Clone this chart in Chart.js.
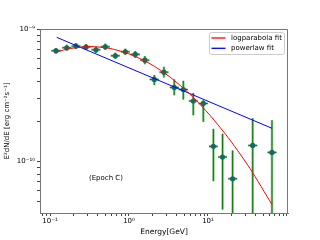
<!DOCTYPE html>
<html>
<head>
<meta charset="utf-8">
<script src="https://cdn.jsdelivr.net/npm/chart.js@4"></script>
<style>
    html, body { margin: 0; padding: 0; background: #fff; }
    #wrap { width: 320px; height: 240px; }
</style>
</head>
<body>
<div id="wrap"><canvas id="sedChart" width="320" height="240"></canvas></div>
<script>
// flux points, E in GeV, E^2 dN/dE in erg cm^-2 s^-1
let energy     = [0.119, 0.163, 0.213, 0.286, 0.382, 0.501, 0.671, 0.898, 1.20, 1.59, 2.09, 2.77, 3.74, 4.87, 6.51, 8.72, 11.7, 15.3, 20.5, 36.8, 64.6];
let energyLow  = [0.104, 0.143, 0.187, 0.251, 0.335, 0.439, 0.589, 0.788, 1.05, 1.39, 1.83, 2.43, 3.28, 4.27, 5.71, 7.65, 10.3, 13.4, 18.0, 32.3, 56.7];
let energyHigh = [0.136, 0.186, 0.243, 0.326, 0.435, 0.571, 0.765, 1.02, 1.37, 1.81, 2.38, 3.16, 4.26, 5.55, 7.42, 9.94, 13.3, 17.4, 23.4, 42.0, 73.6];
let flux       = [6.85e-10, 7.22e-10, 7.43e-10, 7.31e-10, 6.97e-10, 7.34e-10, 6.28e-10, 6.73e-10, 6.43e-10, 5.82e-10, 4.16e-10, 4.72e-10, 3.62e-10, 3.49e-10, 2.86e-10, 2.74e-10, 1.30e-10, 1.08e-10, 7.40e-11, 1.32e-10, 1.17e-10];
let fluxLow    = [6.50e-10, 6.85e-10, 7.05e-10, 6.93e-10, 6.60e-10, 6.95e-10, 5.95e-10, 6.38e-10, 6.05e-10, 5.42e-10, 3.77e-10, 4.31e-10, 3.16e-10, 2.93e-10, 2.23e-10, 1.99e-10, 7.10e-11, 4.33e-11, 1e-11, 1e-12, 1e-12];
let fluxHigh   = [7.20e-10, 7.60e-10, 7.83e-10, 7.70e-10, 7.35e-10, 7.75e-10, 6.62e-10, 7.10e-10, 6.83e-10, 6.25e-10, 4.49e-10, 5.18e-10, 4.16e-10, 4.06e-10, 3.29e-10, 2.90e-10, 1.76e-10, 1.62e-10, 1.21e-10, 2.12e-10, 2.05e-10];

// fitted models
let logparEnergy = [0.1216, 0.1815, 0.321, 0.575, 1.03, 1.845, 3.30, 5.92, 10.6, 19.0, 34.0, 64.6];
let logparFlux   = [6.72e-10, 7.13e-10, 7.37e-10, 7.13e-10, 6.45e-10, 5.47e-10, 4.34e-10, 3.22e-10, 2.23e-10, 1.45e-10, 8.85e-11, 4.72e-11];
let powerlawEnergy = [0.1216, 64.6];
let powerlawFlux   = [8.65e-10, 1.78e-10];

let xTickValues = [0.1, 1, 10];
let xTickLabels = ['10⁻¹', '10⁰', '10¹'];
let yTickValues = [1e-10, 1e-9];
let yTickLabels = ['10⁻¹⁰', '10⁻⁹'];

Chart.defaults.font.family = "'DejaVu Sans', sans-serif";
Chart.defaults.font.size = 7;
Chart.defaults.color = '#000';

function decadeTicks(min, max) {
    let out = [];
    for (let n = -12; n <= 3; n++) {
        for (let m = 1; m <= 9; m++) {
            let v = m * Math.pow(10, n);
            if (v >= min && v <= max) out.push(v);
        }
    }
    return out;
}

function labelFor(values, labels) {
    return function (value) {
        let i = values.findIndex(v => Math.abs(v - value) / v < 1e-6);
        return i >= 0 ? labels[i] : '';
    };
}

let errorBars = {
    id: 'errorBars',
    beforeDatasetsDraw(chart) {
        let ctx = chart.ctx, xs = chart.scales.x, ys = chart.scales.y, a = chart.chartArea;
        ctx.save();
        ctx.beginPath();
        ctx.rect(a.left, a.top, a.right - a.left, a.bottom - a.top);
        ctx.clip();
        for (let pass = 0; pass < 2; pass++) {
            ctx.strokeStyle = pass ? '#0b730b' : 'rgba(60,165,60,0.55)';
            ctx.lineWidth = pass ? 1 : 2.6;
            energy.forEach((e, i) => {
                let px = xs.getPixelForValue(e);
                let py = ys.getPixelForValue(flux[i]);
                ctx.beginPath();
                ctx.moveTo(xs.getPixelForValue(energyLow[i]), py);
                ctx.lineTo(xs.getPixelForValue(energyHigh[i]), py);
                ctx.moveTo(px, ys.getPixelForValue(fluxLow[i]));
                ctx.lineTo(px, ys.getPixelForValue(fluxHigh[i]));
                ctx.stroke();
            });
        }
        ctx.restore();
    }
};

let frameAndLegend = {
    id: 'frameAndLegend',
    afterDraw(chart) {
        let ctx = chart.ctx, a = chart.chartArea;
        ctx.save();
        // top and right spines
        ctx.strokeStyle = '#777';
        ctx.lineWidth = 1;
        ctx.beginPath();
        ctx.moveTo(a.left, a.top + 0.5);
        ctx.lineTo(a.right - 0.5, a.top + 0.5);
        ctx.lineTo(a.right - 0.5, a.bottom);
        ctx.stroke();

        // epoch label
        ctx.fillStyle = '#000';
        ctx.font = "7px 'DejaVu Sans'";
        ctx.textAlign = 'center';
        ctx.textBaseline = 'middle';
        ctx.fillText('(Epoch C)', chart.scales.x.getPixelForValue(0.511), chart.scales.y.getPixelForValue(7.43e-11));

        // legend box
        let bx = 209.5, by = 32.5, bw = 75, bh = 22;
        ctx.fillStyle = 'rgba(255,255,255,0.8)';
        ctx.strokeStyle = '#ccc';
        ctx.beginPath();
        ctx.roundRect(bx, by, bw, bh, 2);
        ctx.fill();
        ctx.stroke();
        let entries = [['logparabola fit', 'red'], ['powerlaw fit', 'blue']];
        entries.forEach((en, i) => {
            let y = by + 5.5 + i * 10.3;
            ctx.strokeStyle = en[1];
            ctx.lineWidth = 1.3;
            ctx.beginPath();
            ctx.moveTo(bx + 2, y);
            ctx.lineTo(bx + 16, y);
            ctx.stroke();
            ctx.fillStyle = '#000';
            ctx.textAlign = 'left';
            ctx.fillText(en[0], bx + 21.5, y);
        });
        ctx.restore();
    }
};

let sedCanvas = document.getElementById('sedChart').getContext('2d');

new Chart(sedCanvas, {
    type: 'scatter',
    data: {
        datasets: [
            {
                label: 'logparabola fit',
                type: 'line',
                data: logparEnergy.map((e, i) => ({x: e, y: logparFlux[i]})),
                borderColor: 'red',
                borderWidth: 1,
                pointRadius: 0,
                tension: 0.25,
                fill: false
            },
            {
                label: 'powerlaw fit',
                type: 'line',
                data: powerlawEnergy.map((e, i) => ({x: e, y: powerlawFlux[i]})),
                borderColor: 'blue',
                borderWidth: 1,
                pointRadius: 0,
                fill: false
            },
            {
                label: 'data',
                data: energy.map((e, i) => ({x: e, y: flux[i]})),
                pointRadius: 2.6,
                pointBackgroundColor: '#156a66',
                pointBorderColor: '#156a66',
                pointBorderWidth: 0
            }
        ]
    },
    options: {
        responsive: false,
        animation: false,
        layout: { padding: { top: 29, right: 32, left: 0, bottom: 0 } },
        plugins: { legend: { display: false }, tooltip: { enabled: false } },
        scales: {
            x: {
                type: 'logarithmic',
                min: 0.0747,
                max: 103,
                afterBuildTicks: s => { s.ticks = decadeTicks(0.0747, 103).map(v => ({value: v})); },
                afterFit: s => { s.height = 27; },
                ticks: { autoSkip: false, maxRotation: 0, padding: 1, callback: labelFor(xTickValues, xTickLabels) },
                grid: { display: true, drawOnChartArea: false, drawTicks: true, tickLength: 3, tickColor: '#444' },
                border: { display: true, color: '#777', width: 1 },
                title: { display: true, text: 'Energy[GeV]', font: { size: 7.5 }, padding: { top: 0, bottom: 3 } }
            },
            y: {
                type: 'logarithmic',
                min: 4.08e-11,
                max: 1.0e-9,
                afterBuildTicks: s => { s.ticks = decadeTicks(4.08e-11, 1.0e-9).map(v => ({value: v})); },
                afterFit: s => { s.width = 40; },
                ticks: { autoSkip: false, padding: 2, callback: labelFor(yTickValues, yTickLabels) },
                grid: { display: true, drawOnChartArea: false, drawTicks: true, tickLength: 3, tickColor: '#444' },
                border: { display: true, color: '#777', width: 1 },
                title: { display: true, text: 'E²dN/dE [erg cm⁻²s⁻¹]', font: { size: 7 }, padding: { top: 3, bottom: 0 } }
            }
        }
    },
    plugins: [errorBars, frameAndLegend]
});
</script>
</body>
</html>
